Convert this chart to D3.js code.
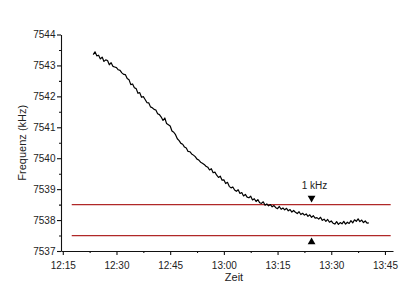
<!DOCTYPE html>
<html>
<head>
<meta charset="utf-8">
<script src="https://cdn.jsdelivr.net/npm/d3@7"></script>
<style>
  body { margin: 0; background: #fff; }
  svg text { font-family: "Liberation Sans", Arial, sans-serif; fill: #222; }
</style>
</head>
<body>
<svg id="chart"></svg>
<script>
// measurement: one reading every 30 s starting 12:23:30
const startTime = '12:23:30';
const stepSeconds = 30;
const freq = [
  7543.35, 7543.44, 7543.31, 7543.33, 7543.21, 7543.27, 7543.13, 7543.18, 7543.16, 7543.02,
  7543.09, 7542.97, 7542.95, 7542.93, 7542.86, 7542.84, 7542.76, 7542.71, 7542.70, 7542.58,
  7542.54, 7542.38, 7542.40, 7542.28, 7542.25, 7542.10, 7542.12, 7541.97, 7541.99, 7541.90,
  7541.80, 7541.79, 7541.66, 7541.63, 7541.58, 7541.56, 7541.44, 7541.41, 7541.33, 7541.22,
  7541.30, 7541.12, 7541.08, 7541.04, 7540.88, 7540.84, 7540.76, 7540.63, 7540.57, 7540.48,
  7540.45, 7540.36, 7540.33, 7540.22, 7540.21, 7540.14, 7540.10, 7540.05, 7539.97, 7539.94,
  7539.87, 7539.84, 7539.80, 7539.74, 7539.71, 7539.62, 7539.66, 7539.53, 7539.55, 7539.45,
  7539.38, 7539.42, 7539.29, 7539.30, 7539.18, 7539.22, 7539.09, 7539.04, 7539.07, 7538.97,
  7538.93, 7538.98, 7538.86, 7538.89, 7538.78, 7538.83, 7538.74, 7538.72, 7538.77, 7538.65,
  7538.69, 7538.60, 7538.66, 7538.56, 7538.54, 7538.59, 7538.48, 7538.52, 7538.46, 7538.50,
  7538.43, 7538.47, 7538.40, 7538.37, 7538.44, 7538.35, 7538.39, 7538.33, 7538.38, 7538.30,
  7538.34, 7538.26, 7538.31, 7538.25, 7538.21, 7538.27, 7538.18, 7538.22, 7538.16, 7538.20,
  7538.12, 7538.17, 7538.09, 7538.14, 7538.06, 7538.08, 7538.03, 7538.09, 7537.99, 7538.03,
  7537.96, 7538.02, 7537.93, 7537.97, 7537.90, 7537.87, 7537.95, 7537.86, 7537.92, 7537.88,
  7537.96, 7537.87, 7537.93, 7537.89, 7537.98, 7537.91, 7538.01, 7537.96, 7538.04, 7537.95,
  7538.00, 7537.92, 7537.97, 7537.90, 7537.91
];

const refLevels = [7538.5, 7537.5];
const refStart = '12:17:30';
const refEnd = '13:46:36';
const markerTime = '13:24:30';
const markerLabel = '1 kHz';

const xTickLabels = ['12:15', '12:30', '12:45', '13:00', '13:15', '13:30', '13:45'];
const yTickValues = [7537, 7538, 7539, 7540, 7541, 7542, 7543, 7544];

const W = 400, H = 289;
const margin = { left: 61, right: 7, top: 34.5, bottom: 38 };

const parse = d3.timeParse('%H:%M:%S');
const parseHM = d3.timeParse('%H:%M');
const t0 = parse(startTime);
const data = freq.map((f, i) => ({ t: new Date(t0.getTime() + i * stepSeconds * 1000), f }));

const svg = d3.select('#chart').attr('width', W).attr('height', H);

const x = d3.scaleTime()
  .domain([parse('12:14:30'), parse('13:47:15')])
  .range([margin.left, W - margin.right]);
const y = d3.scaleLinear()
  .domain([7537, 7544])
  .range([H - margin.bottom, margin.top]);

// minor ticks halfway between the labelled ones
const majorX = xTickLabels.map(parseHM);
const xMinorTicks = majorX.slice(0, -1).map(d => new Date(d.getTime() + 7.5 * 60000));
const yMinor = yTickValues.slice(0, -1).map(v => v + 0.5);

svg.append('g')
  .attr('transform', `translate(0,${H - margin.bottom})`)
  .call(d3.axisBottom(x).tickValues(xMinorTicks).tickSize(2).tickFormat(''))
  .call(g => g.select('.domain').remove());
svg.append('g')
  .attr('transform', `translate(${margin.left},0)`)
  .call(d3.axisLeft(y).tickValues(yMinor).tickSize(2).tickFormat(''))
  .call(g => g.select('.domain').remove());

const xAxis = svg.append('g')
  .attr('transform', `translate(0,${H - margin.bottom})`)
  .call(d3.axisBottom(x)
    .tickValues(majorX)
    .tickFormat(d3.timeFormat('%H:%M'))
    .tickSize(4).tickSizeOuter(0));
xAxis.selectAll('text').attr('font-size', 10).attr('dy', '1.05em');

const yAxis = svg.append('g')
  .attr('transform', `translate(${margin.left},0)`)
  .call(d3.axisLeft(y)
    .tickValues(yTickValues)
    .tickFormat(d3.format('d'))
    .tickSize(4).tickSizeOuter(0));
yAxis.selectAll('text').attr('font-size', 10).attr('dx', '0.15em');

svg.selectAll('.domain, .tick line').attr('stroke', '#111').attr('stroke-width', 1.1);

// reference lines
svg.append('g').selectAll('line')
  .data(refLevels)
  .join('line')
  .attr('x1', x(parse(refStart)))
  .attr('x2', x(parse(refEnd)))
  .attr('y1', d => y(d))
  .attr('y2', d => y(d))
  .attr('stroke', '#b02828')
  .attr('stroke-width', 1.2);

// data line
const line = d3.line().x(d => x(d.t)).y(d => y(d.f));
svg.append('path')
  .datum(data)
  .attr('fill', 'none')
  .attr('stroke', '#000')
  .attr('stroke-width', 1.2)
  .attr('stroke-linejoin', 'round')
  .attr('d', line);

// markers
const mx = x(parse(markerTime));
const tri = d3.symbol().type(d3.symbolTriangle).size(26);
svg.append('path')
  .attr('d', tri())
  .attr('transform', `translate(${mx},${y(refLevels[0]) - 6.5}) rotate(180)`)
  .attr('fill', '#000');
svg.append('path')
  .attr('d', tri())
  .attr('transform', `translate(${mx},${y(refLevels[1]) + 6.5})`)
  .attr('fill', '#000');
svg.append('text')
  .attr('x', mx + 3)
  .attr('y', y(refLevels[0]) - 16)
  .attr('text-anchor', 'middle')
  .attr('font-size', 10)
  .text(markerLabel);

// axis titles
svg.append('text')
  .attr('x', (margin.left + W - margin.right) / 2 + 7)
  .attr('y', H - 8)
  .attr('text-anchor', 'middle')
  .attr('font-size', 11)
  .text('Zeit');
svg.append('text')
  .attr('transform', `translate(26,${(margin.top + H - margin.bottom) / 2}) rotate(-90)`)
  .attr('text-anchor', 'middle')
  .attr('font-size', 11)
  .text('Frequenz (kHz)');
</script>
</body>
</html>
